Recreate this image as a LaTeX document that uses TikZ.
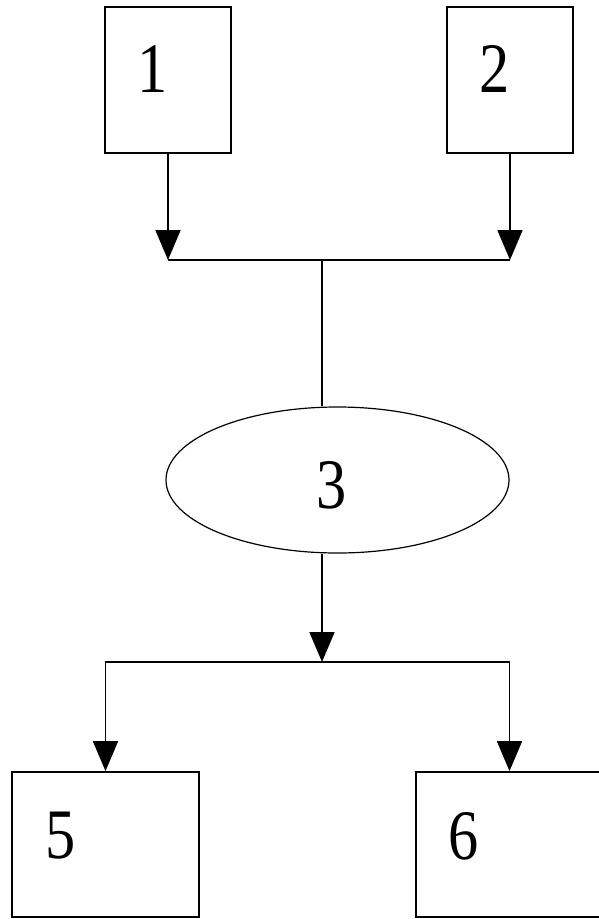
\documentclass[tikz,border=0pt]{standalone}
\usepackage{fontspec}
\setmainfont{Liberation Serif}
\newfontfamily\digitfont[FakeStretch=0.85]{Liberation Serif}
\usetikzlibrary{arrows.meta,shapes.geometric}
\begin{document}
\begin{tikzpicture}[x=1pt,y=-1pt,
  boxst/.style={draw,line width=1.8pt,inner sep=0pt,minimum width=#1},
  boxst/.default=126pt,
  digit/.style={inner sep=0pt,font=\digitfont\fontsize{71}{71}\selectfont},
  conn/.style={line width=1.8pt},
  arr/.style={conn,-{Triangle[length=30pt,width=25pt]}}]
\useasboundingbox (0,0) rectangle (598,919);
% boxes
\node[boxst,minimum height=146pt] (b1) at (168,80) {};
\node[boxst,minimum height=146pt] (b2) at (510,80) {};
\node[draw,ellipse,line width=1.2pt,inner sep=0pt,minimum width=343pt,minimum height=146pt] (e3) at (337.5,480) {};
\node[boxst=187pt,minimum height=145pt] (b5) at (105.5,844.5) {};
\node[boxst=187pt,minimum height=145pt] (b6) at (509.5,844.5) {};
% labels
\node[digit] (t1) at (153,69) {1};
\node[digit] (t2) at (495,69) {2};
\node[digit] (t3) at (332,485) {3};
\node[digit] (t5) at (61,836) {5};
\node[digit] (t6) at (464,836) {6};
% junctions
\coordinate (j1) at (168,260);
\coordinate (j2) at (510,260);
\coordinate (m1) at (322,260);
\coordinate (m2) at (322,662);
\coordinate (k5) at (105.5,662);
\coordinate (k6) at (509.5,662);
% connectors
\draw[arr] (b1.south) -- (j1);
\draw[arr] (b2.south) -- (j2);
\draw[conn] (j1) -- (j2);
\draw[line width=1.2pt] (m1) -- (m1 |- e3.north);
\draw[arr] (m1 |- e3.south) -- (m2);
\draw[conn,line cap=rect] (k5) -- (k6);
\draw[arr] (k5) -- (b5.north);
\draw[arr] (k6) -- (b6.north);
\end{tikzpicture}
\end{document}
